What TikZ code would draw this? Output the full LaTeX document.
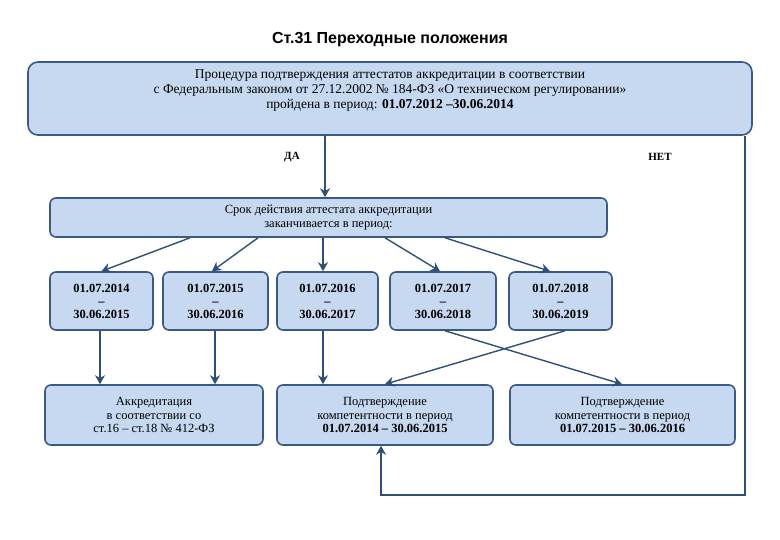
\documentclass[tikz,border=0pt]{standalone}
\usepackage{fontspec}
\setmainfont{Liberation Serif}
\newfontfamily\sansf{Liberation Sans}
\usetikzlibrary{arrows.meta}
\definecolor{bfill}{HTML}{C6D9F0}
\definecolor{bline}{HTML}{3A5A86}
\definecolor{aline}{HTML}{2F4F7A}
\begin{document}
\begin{tikzpicture}[x=1pt,y=-1pt,
 box/.style={draw=bline,line width=1.6pt,fill=bfill,rounded corners=6pt,align=center,inner sep=0pt,font=\fontsize{12.5}{13.5}\selectfont},
 dbox/.style={box,font=\bfseries\fontsize{12.5}{13}\selectfont},
 arr/.style={draw=aline,line width=1.4pt,-{Stealth[length=9pt,width=10pt]}},
 thk/.style={arr,line width=2.4pt}]
\useasboundingbox (0,0) rectangle (780,540);
\node[font=\sansf\bfseries\fontsize{16}{18}\selectfont] (t) at (390,40) {Ст.31 Переходные положения};
\node[box,minimum width=724pt,minimum height=73pt,rounded corners=10pt,font=\fontsize{13.5}{15}\selectfont] (top) at (390,98.5) {Процедура подтверждения аттестатов аккредитации в соответствии\\с Федеральным законом от 27.12.2002 № 184-ФЗ «О техническом регулировании»\\пройдена в период: \textbf{01.07.2012 –30.06.2014}\\[4pt]};
\node[font=\bfseries\fontsize{11}{12}\selectfont] (da) at (292,157) {ДА};
\node[font=\bfseries\fontsize{11}{12}\selectfont] (net) at (660,157) {НЕТ};
\node[box,minimum width=557pt,minimum height=39pt] (s) at (328.5,217.5) {Срок действия аттестата аккредитации\\заканчивается в период:};
\node[dbox,minimum width=103pt,minimum height=58pt] (b1) at (101.5,301) {01.07.2014\\–\\30.06.2015};
\node[dbox,minimum width=105pt,minimum height=58pt] (b2) at (215.5,301) {01.07.2015\\–\\30.06.2016};
\node[dbox,minimum width=101pt,minimum height=58pt] (b3) at (327.5,301) {01.07.2016\\–\\30.06.2017};
\node[dbox,minimum width=106pt,minimum height=58pt] (b4) at (443,301) {01.07.2017\\–\\30.06.2018};
\node[dbox,minimum width=103pt,minimum height=58pt] (b5) at (560.5,301) {01.07.2018\\–\\30.06.2019};
\node[box,minimum width=218pt,minimum height=60pt] (c1) at (154,415) {Аккредитация\\в соответствии со\\ст.16 – ст.18 № 412-ФЗ};
\node[box,minimum width=216pt,minimum height=60pt] (c2) at (385,415) {Подтверждение\\компетентности в период\\\textbf{01.07.2014 – 30.06.2015}};
\node[box,minimum width=225pt,minimum height=60pt] (c3) at (622.5,415) {Подтверждение\\компетентности в период\\\textbf{01.07.2015 – 30.06.2016}};
\coordinate (f1) at (745,495);
\coordinate (f2) at (381,495);
\draw[arr] (top.south -| 325,0) -- (s.north -| 325,0);
\draw[arr] (s.south -| 190,0) -- (b1.north);
\draw[arr] (s.south -| 258,0) -- (b2.north -| 212,0);
\draw[thk] (s.south -| 323,0) -- (b3.north -| 323,0);
\draw[arr] (s.south -| 385,0) -- (b4.north -| 440,0);
\draw[arr] (s.south -| 445,0) -- (b5.north -| 550,0);
\draw[thk] (b1.south -| 100,0) -- (c1.north -| 100,0);
\draw[thk] (b2.south -| 215,0) -- (c1.north -| 215,0);
\draw[arr] (b3.south -| 323,0) -- (c2.north -| 323,0);
\draw[arr] (b4.south -| 445,0) -- (c3.north -| 622,0);
\draw[arr] (b5.south -| 565,0) -- (c2.north -| 385,0);
\draw[arr,line width=2.6pt] (top.south -| 745,0) -- (f1) -- (f2) -- (c2.south -| 381,0);
\end{tikzpicture}
\end{document}
